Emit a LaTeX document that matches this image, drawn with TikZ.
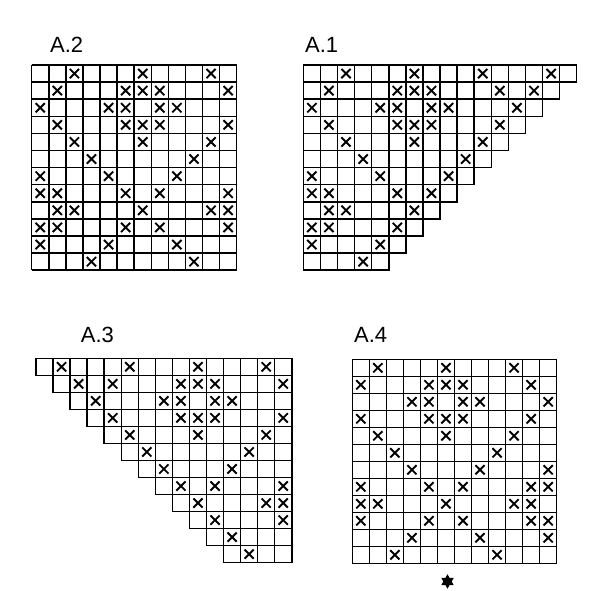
\documentclass[tikz,border=0pt]{standalone}
\usepackage{fontspec}
\setmainfont{Liberation Sans}
\begin{document}
\begin{tikzpicture}[x=1pt,y=-1pt,
    gridline/.style={line width=1.5pt},
    cross/.style={line width=1.9pt},
    chartlabel/.style={anchor=base west,inner sep=0pt,font=\fontsize{22}{26}\selectfont}]
  \useasboundingbox (0,0) rectangle (600,591);

  % labels
  \node[chartlabel] (labelA2) at (50,53) {A.2};
  \node[chartlabel] (labelA1) at (305,53) {A.1};
  \node[chartlabel] (labelA3) at (80.7,342.7) {A.3};
  \node[chartlabel] (labelA4) at (354,342.7) {A.4};

  % A.2, full 12x12
  \begin{scope}[xshift=31.7pt,yshift=-65pt,x=17.08pt,y=-17.1pt]
    \foreach \i in {0,...,12} {
      \draw[gridline] (\i,0) -- (\i,12);
      \draw[gridline] (0,\i) -- (12,\i);
    }
    \foreach \r/\c in {1/3,1/7,1/11,
        2/2,2/6,2/7,2/8,2/12,
        3/1,3/5,3/6,3/8,3/9,
        4/2,4/6,4/7,4/8,4/12,
        5/3,5/7,5/11,
        6/4,6/10,
        7/1,7/5,7/9,
        8/1,8/2,8/6,8/8,8/12,
        9/2,9/3,9/7,9/11,9/12,
        10/1,10/2,10/6,10/8,10/12,
        11/1,11/5,11/9,
        12/4,12/10}
      \draw[cross] (\c-0.5,\r-0.5) +(-0.27,-0.27) -- +(0.27,0.27)
            +(-0.27,0.27) -- +(0.27,-0.27);
  \end{scope}

  % A.1, rows get shorter to the right
  \begin{scope}[xshift=303.3pt,yshift=-65pt,x=17.09pt,y=-17.1pt]
    \foreach \r in {1,...,12} {
      \pgfmathtruncatemacro\lastcell{17-\r}
      \foreach \c in {1,...,\lastcell}
        \draw[gridline] (\c-1,\r-1) rectangle (\c,\r);
    }
    \foreach \r/\c in {1/3,1/7,1/11,1/15,
        2/2,2/6,2/7,2/8,2/12,2/14,
        3/1,3/5,3/6,3/8,3/9,3/13,
        4/2,4/6,4/7,4/8,4/12,
        5/3,5/7,5/11,
        6/4,6/10,
        7/1,7/5,7/9,
        8/1,8/2,8/6,8/8,
        9/2,9/3,9/7,
        10/1,10/2,10/6,
        11/1,11/5,
        12/4}
      \draw[cross] (\c-0.5,\r-0.5) +(-0.27,-0.27) -- +(0.27,0.27)
            +(-0.27,0.27) -- +(0.27,-0.27);
  \end{scope}

  % A.3, rows get shorter to the left
  \begin{scope}[xshift=36pt,yshift=-358.3pt,x=17.05pt,y=-17.03pt]
    \foreach \r in {1,...,12}
      \foreach \c in {\r,...,15}
        \draw[gridline] (\c-1,\r-1) rectangle (\c,\r);
    \foreach \r/\c in {1/2,1/6,1/10,1/14,
        2/3,2/5,2/9,2/10,2/11,2/15,
        3/4,3/8,3/9,3/11,3/12,
        4/5,4/9,4/10,4/11,4/15,
        5/6,5/10,5/14,
        6/7,6/13,
        7/8,7/12,
        8/9,8/11,8/15,
        9/10,9/14,9/15,
        10/11,10/15,
        11/12,
        12/13}
      \draw[cross] (\c-0.5,\r-0.5) +(-0.27,-0.27) -- +(0.27,0.27)
            +(-0.27,0.27) -- +(0.27,-0.27);
  \end{scope}

  % A.4, full 12x12
  \begin{scope}[xshift=352.3pt,yshift=-359.3pt,x=17.03pt,y=-17.0pt]
    \foreach \i in {0,...,12} {
      \draw[gridline] (\i,0) -- (\i,12);
      \draw[gridline] (0,\i) -- (12,\i);
    }
    \foreach \r/\c in {1/2,1/6,1/10,
        2/1,2/5,2/6,2/7,2/11,
        3/4,3/5,3/7,3/8,3/12,
        4/1,4/5,4/6,4/7,4/11,
        5/2,5/6,5/10,
        6/3,6/9,
        7/4,7/8,7/12,
        8/1,8/5,8/7,8/11,8/12,
        9/1,9/2,9/6,9/10,9/11,
        10/1,10/5,10/7,10/11,10/12,
        11/4,11/8,11/12,
        12/3,12/9}
      \draw[cross] (\c-0.5,\r-0.5) +(-0.27,-0.27) -- +(0.27,0.27)
            +(-0.27,0.27) -- +(0.27,-0.27);
  \end{scope}

  % star under A.4
  \coordinate (starmid) at (447.5,581.5);
  \fill (starmid) +(90:7.2) -- +(210:7.2) -- +(330:7.2) -- cycle;
  \fill (starmid) +(270:7.2) -- +(30:7.2) -- +(150:7.2) -- cycle;
\end{tikzpicture}
\end{document}
